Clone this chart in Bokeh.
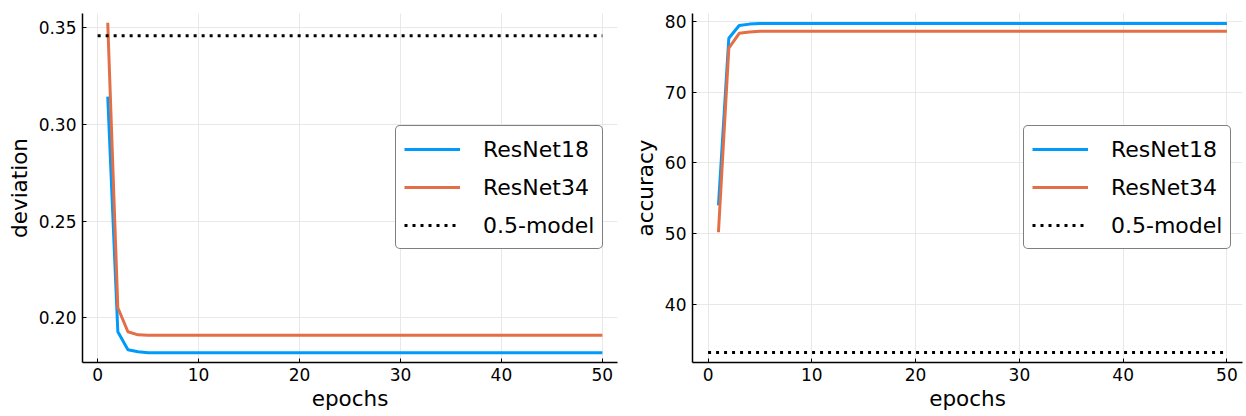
from bokeh.plotting import figure
from bokeh.layouts import row
from bokeh.models import Range1d, Legend, LegendItem, FixedTicker, PrintfTickFormatter
from bokeh.embed import file_html
from bokeh.resources import INLINE

# ---- data ---------------------------------------------------------------
epochs = list(range(1, 51))

dev_resnet18 = [0.3144, 0.1928, 0.1835, 0.1825] + [0.182] * 46
dev_resnet34 = [0.3526, 0.2052, 0.1928, 0.1912] + [0.191] * 46

acc_resnet18 = [54.0, 77.6, 79.4, 79.6] + [79.7] * 46
acc_resnet34 = [50.2, 76.2, 78.3, 78.5] + [78.6] * 46

baseline_x = [0, 50]
baseline_dev = [0.3459, 0.3459]
baseline_acc = [33.2, 33.2]

series_names = ["ResNet18", "ResNet34", "0.5-model"]
x_ticks = [0, 10, 20, 30, 40, 50]
dev_ticks = [0.20, 0.25, 0.30, 0.35]
acc_ticks = [40, 50, 60, 70, 80]

# ---- style --------------------------------------------------------------
FONT = "DejaVu Sans"
BLUE = "#009AFA"
ORANGE = "#E26F46"
GRID = "#e8e8e8"


def make_panel(y_label, y_range, y_ticks, y_format, ys18, ys34, ybase,
               border_left, border_right, legend_x):
    p = figure(width=623, height=416, output_backend="svg", toolbar_location=None,
               x_range=Range1d(-1.5, 51.5), y_range=Range1d(*y_range),
               min_border_left=border_left, min_border_right=border_right,
               min_border_top=13, min_border_bottom=54)
    p.outline_line_color = None
    p.background_fill_color = "white"
    p.border_fill_color = "white"

    r18 = p.line(epochs, ys18, line_color=BLUE, line_width=3)
    r34 = p.line(epochs, ys34, line_color=ORANGE, line_width=3)
    rb = p.line(baseline_x, ybase, line_color="black", line_width=3, line_dash="3 5")

    p.xaxis.ticker = FixedTicker(ticks=x_ticks)
    p.yaxis.ticker = FixedTicker(ticks=y_ticks)
    p.yaxis.formatter = PrintfTickFormatter(format=y_format)
    p.xaxis.axis_label = "epochs"
    p.yaxis.axis_label = y_label

    for ax in (p.xaxis, p.yaxis):
        ax.axis_line_color = "black"
        ax.axis_line_width = 1.5
        ax.major_tick_line_color = "black"
        ax.major_tick_in = 4
        ax.major_tick_out = 0
        ax.minor_tick_line_color = None
        ax.major_label_text_font = FONT
        ax.major_label_text_font_size = "17px"
        ax.major_label_text_color = "black"
        ax.major_label_standoff = 6
        ax.axis_label_text_font = FONT
        ax.axis_label_text_font_size = "21.5px"
        ax.axis_label_text_font_style = "normal"
        ax.axis_label_text_color = "black"
        ax.axis_label_standoff = 4
    p.xaxis.major_label_standoff = 5
    p.xaxis.axis_label_standoff = 2

    p.xgrid.grid_line_color = GRID
    p.ygrid.grid_line_color = GRID
    p.xgrid.grid_line_width = 1
    p.ygrid.grid_line_width = 1

    legend = Legend(items=[LegendItem(label=series_names[0], renderers=[r18]),
                           LegendItem(label=series_names[1], renderers=[r34]),
                           LegendItem(label=series_names[2], renderers=[rb])],
                    location=(legend_x, 113))
    legend.label_text_font = FONT
    legend.label_text_font_size = "22px"
    legend.label_text_color = "black"
    legend.label_height = 30
    legend.glyph_height = 30
    legend.glyph_width = 56
    legend.label_standoff = 23
    legend.spacing = 8
    legend.padding = 8
    legend.margin = 0
    legend.border_line_color = "black"
    legend.border_line_width = 1
    legend.background_fill_color = "white"
    legend.background_fill_alpha = 1.0
    if "border_radius" in Legend.properties():
        legend.border_radius = 5
    p.add_layout(legend, "center")
    return p


left = make_panel("deviation", (0.1769, 0.3574), dev_ticks, "%.2f",
                  dev_resnet18, dev_resnet34, baseline_dev, 82, 6, 313)
right = make_panel("accuracy", (31.8, 81.1), acc_ticks, "%d",
                   acc_resnet18, acc_resnet34, baseline_acc, 69, 4, 331)

layout = row(left, right)
open("out.html", "w").write(file_html(layout, INLINE))
